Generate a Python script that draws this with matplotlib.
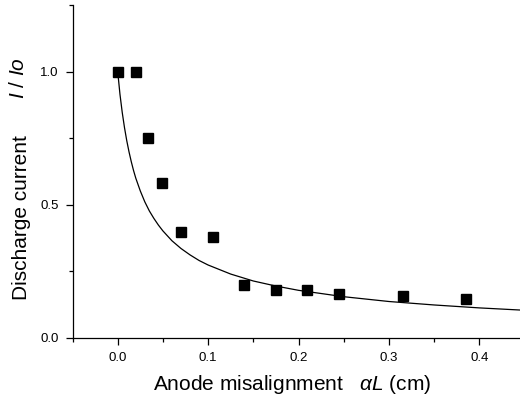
import matplotlib
matplotlib.use("Agg")
import matplotlib.pyplot as plt
from matplotlib.ticker import FixedLocator

plt.rcParams['font.family'] = ['Liberation Sans', 'DejaVu Sans']
plt.rcParams['mathtext.fontset'] = 'custom'
plt.rcParams['mathtext.it'] = 'Liberation Sans:italic'
plt.rcParams['mathtext.rm'] = 'Liberation Sans'

# measured data (squares)
meas_x = [0.0, 0.02, 0.034, 0.049, 0.070, 0.105, 0.140, 0.175, 0.209, 0.245, 0.316, 0.385]
meas_y = [1.0, 1.0, 0.752, 0.583, 0.398, 0.380, 0.200, 0.180, 0.180, 0.165, 0.158, 0.147]

# theoretical curve
curve_x = [0.0, 0.0025, 0.005, 0.0075, 0.01, 0.0125, 0.015, 0.0175, 0.02, 0.025, 0.03,
           0.035, 0.04, 0.045, 0.05, 0.06, 0.07, 0.08, 0.09, 0.1, 0.125, 0.15, 0.175,
           0.2, 0.25, 0.3, 0.35, 0.4, 0.445]
curve_y = [1.0, 0.915, 0.847, 0.790, 0.741, 0.699, 0.662, 0.629, 0.600, 0.552, 0.511,
           0.477, 0.449, 0.424, 0.402, 0.365, 0.336, 0.312, 0.291, 0.274, 0.240, 0.214,
           0.195, 0.179, 0.155, 0.137, 0.124, 0.113, 0.105]

W, H = 520, 401
fig = plt.figure(figsize=(5.2, 4.01), dpi=100)
ax = fig.add_axes([72.5/W, 63/H, 1 - 72.5/W, (338-5)/H])

ax.plot(curve_x, curve_y, color='black', lw=0.9, clip_on=False)
ax.plot(meas_x, meas_y, 's', color='black', ms=7, clip_on=False)

ax.set_xlim(-0.05, 0.445)
ax.set_ylim(0, 1.25)
ax.spines['top'].set_visible(False)
ax.spines['right'].set_visible(False)
for s in ('left', 'bottom'):
    ax.spines[s].set_linewidth(0.9)

ax.xaxis.set_major_locator(FixedLocator([0.0, 0.1, 0.2, 0.3, 0.4]))
ax.xaxis.set_minor_locator(FixedLocator([-0.05, 0.05, 0.15, 0.25, 0.35]))
ax.yaxis.set_major_locator(FixedLocator([0.0, 0.5, 1.0]))
ax.yaxis.set_minor_locator(FixedLocator([0.25, 0.75, 1.25]))
ax.set_xticklabels(['0.0', '0.1', '0.2', '0.3', '0.4'])
ax.set_yticklabels(['0.0', '0.5', '1.0'])
ax.tick_params(which='major', direction='out', length=5, width=0.9, labelsize=9.5, pad=5)
ax.tick_params(which='minor', direction='out', length=3, width=0.9)

fig.text(292/W, (H-390)/H, r'Anode misalignment   $\alpha L$ (cm)', fontsize=15,
         ha='center', va='baseline')
fig.text(22/W, (H-217.5)/H, 'Discharge current', fontsize=15, rotation=90,
         ha='center', va='center')
fig.text(18.5/W, (H-78)/H, r'$I$ / $Io$', fontsize=15, rotation=90,
         ha='center', va='center')

fig.savefig('out.png', dpi=100)
